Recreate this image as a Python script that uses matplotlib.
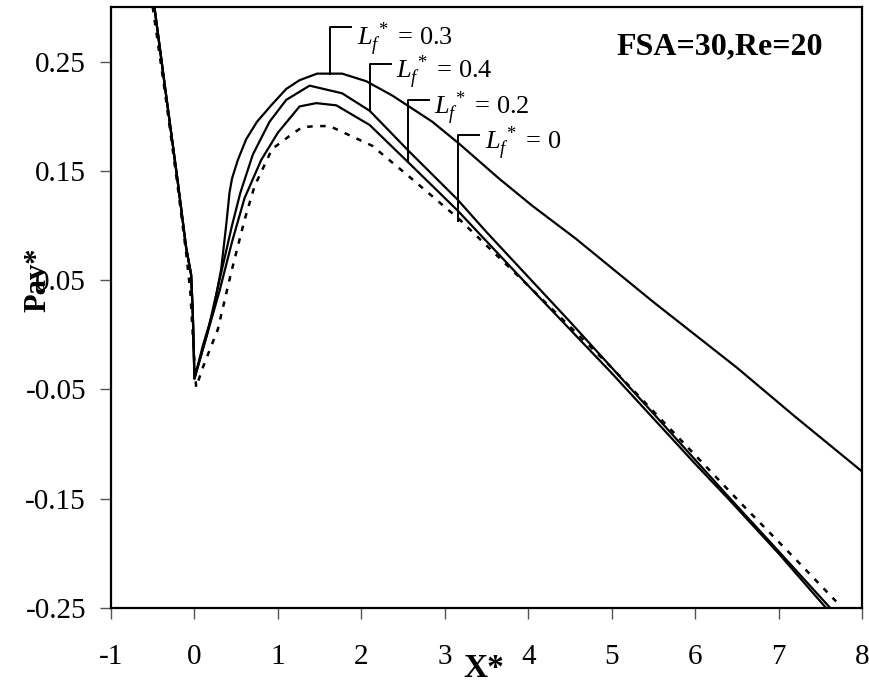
import matplotlib
matplotlib.use("Agg")
import matplotlib.pyplot as plt
import matplotlib.transforms as mtransforms

plt.rcParams['font.family'] = ['Liberation Serif', 'DejaVu Serif']
plt.rcParams['mathtext.fontset'] = 'custom'
plt.rcParams['mathtext.rm'] = 'Liberation Serif'
plt.rcParams['mathtext.it'] = 'Liberation Serif:italic'

# shared descending branch (x < 0)
left_x = [-0.48, -0.35, -0.2, -0.1, -0.04, -0.02, 0.0]
left_y = [0.30, 0.225, 0.14, 0.08, 0.055, 0.02, -0.04]

# Lf* = 0.3
x03 = [0.1, 0.22, 0.32, 0.38, 0.42, 0.45, 0.52, 0.62, 0.75, 0.92, 1.1, 1.26, 1.47, 1.77, 2.06,
       2.37, 2.85, 3.17, 3.65, 4.05, 4.57, 5.5, 6.5, 7.2, 8.0]
y03 = [-0.01, 0.02, 0.06, 0.10, 0.13, 0.143, 0.16, 0.179, 0.195, 0.21, 0.225, 0.233, 0.239, 0.239, 0.232,
       0.219, 0.195, 0.175, 0.143, 0.118, 0.088, 0.03, -0.03, -0.075, -0.125]

# Lf* = 0.4
x04 = [0.15, 0.3, 0.45, 0.55, 0.7, 0.9, 1.1, 1.38, 1.77, 2.1, 2.57, 3.15, 3.5, 4.5, 5.5, 6.41, 7.0, 7.62]
y04 = [0.0, 0.05, 0.10, 0.13, 0.165, 0.195, 0.215, 0.228, 0.221, 0.205, 0.168, 0.124, 0.094, 0.012,
       -0.072, -0.149, -0.198, -0.25]

# Lf* = 0.2
x02 = [0.15, 0.3, 0.45, 0.6, 0.8, 1.0, 1.26, 1.46, 1.7, 2.1, 2.56, 3.15, 4.0, 5.0, 6.0, 6.41, 7.0, 7.57]
y02 = [0.0, 0.04, 0.085, 0.125, 0.16, 0.185, 0.209, 0.212, 0.21, 0.192, 0.158, 0.114, 0.045, -0.035,
       -0.118, -0.151, -0.2, -0.25]

# Lf* = 0 (dashed)
x00 = [-0.5, -0.35, -0.2, -0.1, -0.05, -0.02, 0.02, 0.1, 0.28, 0.44, 0.6, 0.72, 0.93, 1.14, 1.29, 1.46,
       1.62, 2.13, 2.57, 3.17, 4.0, 5.0, 6.0, 6.56, 7.2, 7.69]
y00 = [0.30, 0.22, 0.135, 0.075, 0.04, 0.0, -0.048, -0.03, 0.005, 0.057, 0.105, 0.136, 0.17, 0.182, 0.19,
       0.191, 0.191, 0.173, 0.145, 0.106, 0.045, -0.03, -0.11, -0.155, -0.205, -0.244]

xticks = [-1, 0, 1, 2, 3, 4, 5, 6, 7, 8]
yticks = [-0.25, -0.15, -0.05, 0.05, 0.15, 0.25]
ytick_labels = ['-0.25', '-0.15', '-0.05', '0.05', '0.15', '0.25']

labels = ['$L_f^{\\,*}$ = 0.3', '$L_f^{\\,*}$ = 0.4', '$L_f^{\\,*}$ = 0.2', '$L_f^{\\,*}$ = 0']
# leader: x where it meets the curve, curve value, elbow level
lead_x = [1.63, 2.10, 2.56, 3.16]
lead_y = [0.239, 0.205, 0.158, 0.104]
lead_top = [0.282, 0.248, 0.215, 0.183]

fig = plt.figure(figsize=(8.7, 6.9), dpi=100)
ax = fig.add_axes([0.1276, 0.1188, 0.8632, 0.8711])

lw = 1.6
ax.plot(left_x + x03, left_y + y03, color='black', lw=lw)
ax.plot(left_x + x04, left_y + y04, color='black', lw=lw)
ax.plot(left_x + x02, left_y + y02, color='black', lw=lw)
ax.plot(x00, y00, color='black', lw=1.8, linestyle=(0, (2.2, 3.0)))

ax.set_xlim(-1, 8)
ax.set_ylim(-0.25, 0.30)
ax.set_xticks(xticks)
ax.set_xticklabels([str(t) for t in xticks])
ax.set_yticks(yticks)
ax.set_yticklabels(ytick_labels)
ax.tick_params(axis='both', direction='out', length=8, width=1, color='#555555',
               labelsize=21)
ax.tick_params(axis='x', pad=18)
ax.tick_params(axis='y', pad=10)
for s in ax.spines.values():
    s.set_linewidth(1.6)

for i, (lx, ly, ty, txt) in enumerate(zip(lead_x, lead_y, lead_top, labels)):
    dy = -14 if i == 0 else -11
    tr = mtransforms.offset_copy(ax.transData, fig=fig, x=4, y=dy, units='points')
    ax.plot([lx, lx, lx + 0.25], [ly, ty, ty], color='black', lw=1.4)
    ax.text(lx + 0.25, ty, txt, fontsize=19, va='baseline', ha='left', transform=tr)

ax.text(0.948, 0.933, 'FSA=30,Re=20', transform=ax.transAxes, fontsize=23,
        fontweight='bold', ha='right', va='center')

fig.text(0.044, 0.594, 'Pav*', rotation=90, fontsize=22, fontweight='bold',
         ha='center', va='center')
fig.text(0.556, 0.019, 'X*', fontsize=24, fontweight='bold', ha='center', va='baseline')

fig.savefig('out.png', dpi=100)
